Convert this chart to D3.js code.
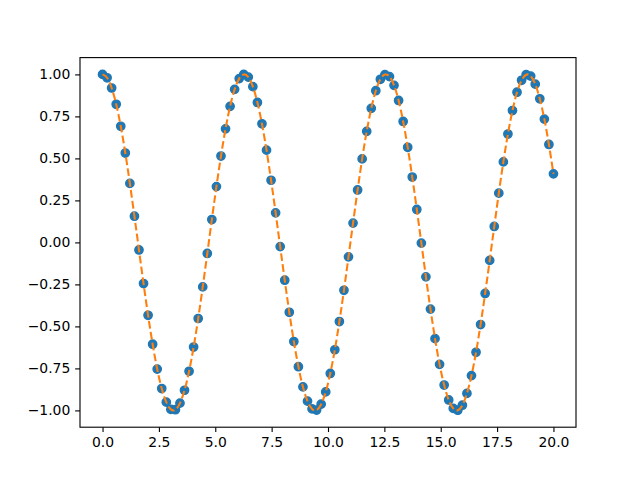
<!DOCTYPE html>
<html>
<head>
<meta charset="utf-8">
<script src="https://cdn.jsdelivr.net/npm/d3@7"></script>
<style>
body { margin: 0; background: white; }
.axis text { font-family: "DejaVu Sans", sans-serif; font-size: 13.9px; fill: black; }
.axis path, .axis line { stroke: black; stroke-width: 1.11px; }
</style>
</head>
<body>
<svg id="chart" width="640" height="480"></svg>
<script>
// sample positions (100 evenly spaced from 0 to 20) and the values
var xs = [0.000, 0.202, 0.404, 0.606, 0.808, 1.010, 1.212, 1.414, 1.616, 1.818,
    2.020, 2.222, 2.424, 2.626, 2.828, 3.030, 3.232, 3.434, 3.636, 3.838,
    4.040, 4.242, 4.444, 4.646, 4.848, 5.051, 5.253, 5.455, 5.657, 5.859,
    6.061, 6.263, 6.465, 6.667, 6.869, 7.071, 7.273, 7.475, 7.677, 7.879,
    8.081, 8.283, 8.485, 8.687, 8.889, 9.091, 9.293, 9.495, 9.697, 9.899,
    10.101, 10.303, 10.505, 10.707, 10.909, 11.111, 11.313, 11.515, 11.717, 11.919,
    12.121, 12.323, 12.525, 12.727, 12.929, 13.131, 13.333, 13.535, 13.737, 13.939,
    14.141, 14.343, 14.545, 14.747, 14.949, 15.152, 15.354, 15.556, 15.758, 15.960,
    16.162, 16.364, 16.566, 16.768, 16.970, 17.172, 17.374, 17.576, 17.778, 17.980,
    18.182, 18.384, 18.586, 18.788, 18.990, 19.192, 19.394, 19.596, 19.798, 20.000];
var ys = [1.000, 0.980, 0.919, 0.822, 0.691, 0.532, 0.351, 0.156, -0.045, -0.245,
    -0.434, -0.606, -0.754, -0.870, -0.951, -0.994, -0.996, -0.957, -0.880, -0.767,
    -0.623, -0.453, -0.265, -0.066, 0.136, 0.332, 0.514, 0.676, 0.810, 0.911,
    0.975, 1.000, 0.984, 0.927, 0.833, 0.706, 0.549, 0.370, 0.176, -0.025,
    -0.225, -0.416, -0.590, -0.740, -0.860, -0.945, -0.991, -0.998, -0.963, -0.890,
    -0.780, -0.639, -0.471, -0.285, -0.086, 0.115, 0.312, 0.497, 0.661, 0.798,
    0.903, 0.971, 0.999, 0.987, 0.935, 0.845, 0.720, 0.566, 0.389, 0.196,
    -0.004, -0.205, -0.397, -0.573, -0.726, -0.849, -0.938, -0.988, -0.999, -0.969,
    -0.899, -0.793, -0.654, -0.489, -0.304, -0.107, 0.095, 0.293, 0.479, 0.645,
    0.785, 0.894, 0.965, 0.998, 0.990, 0.942, 0.855, 0.734, 0.583, 0.408];
var xTicks = [0, 2.5, 5, 7.5, 10, 12.5, 15, 17.5, 20];
var yTicks = [-1, -0.75, -0.5, -0.25, 0, 0.25, 0.5, 0.75, 1];

var data = xs.map(function (x, i) { return { x: x, y: ys[i] }; });

// matplotlib default axes box
var m = { left: 80, right: 64, top: 57.6, bottom: 52.8 };
var w = 640 - m.left - m.right;
var h = 480 - m.top - m.bottom;

var svg = d3.select("#chart");
var chart = svg.append("g")
    .attr("transform", "translate(" + m.left + "," + m.top + ")");

var x = d3.scaleLinear().domain([-1, 21]).range([0, w]);
var y = d3.scaleLinear().domain([-1.1, 1.1]).range([h, 0]);

var minus = function (s) { return s.replace("-", "\u2212"); };
var xAxis = d3.axisBottom(x).tickValues(xTicks)
    .tickFormat(function (d) { return minus(d3.format(".1f")(d)); })
    .tickSize(4.86).tickPadding(4.86);
var yAxis = d3.axisLeft(y).tickValues(yTicks)
    .tickFormat(function (d) { return minus(d3.format(".2f")(d)); })
    .tickSize(4.86).tickPadding(4.86);

// Draw points
chart.append("g")
    .selectAll("circle")
    .data(data)
    .enter().append("circle")
    .attr("cx", function (d) { return x(d.x); })
    .attr("cy", function (d) { return y(d.y); })
    .attr("r", 4.17)
    .style("fill", "#1f77b4")
    .style("stroke", "#1f77b4")
    .style("stroke-width", 1.39);

// Dashed interpolating line on top
var line = d3.line()
    .x(function (d) { return x(d.x); })
    .y(function (d) { return y(d.y); })
    .curve(d3.curveNatural);
chart.append("path")
    .attr("d", line(data))
    .style("fill", "none")
    .style("stroke", "#ff7f0e")
    .style("stroke-width", 2.08)
    .style("stroke-dasharray", "7.7,3.3");

// Frame
chart.append("rect")
    .attr("width", w)
    .attr("height", h)
    .style("fill", "none")
    .style("stroke", "black")
    .style("stroke-width", 1.11);

var gX = chart.append("g")
    .attr("class", "axis")
    .attr("transform", "translate(0," + h + ")")
    .call(xAxis);
var gY = chart.append("g")
    .attr("class", "axis")
    .call(yAxis);
gX.select(".domain").remove();
gY.select(".domain").remove();
</script>
</body>
</html>
